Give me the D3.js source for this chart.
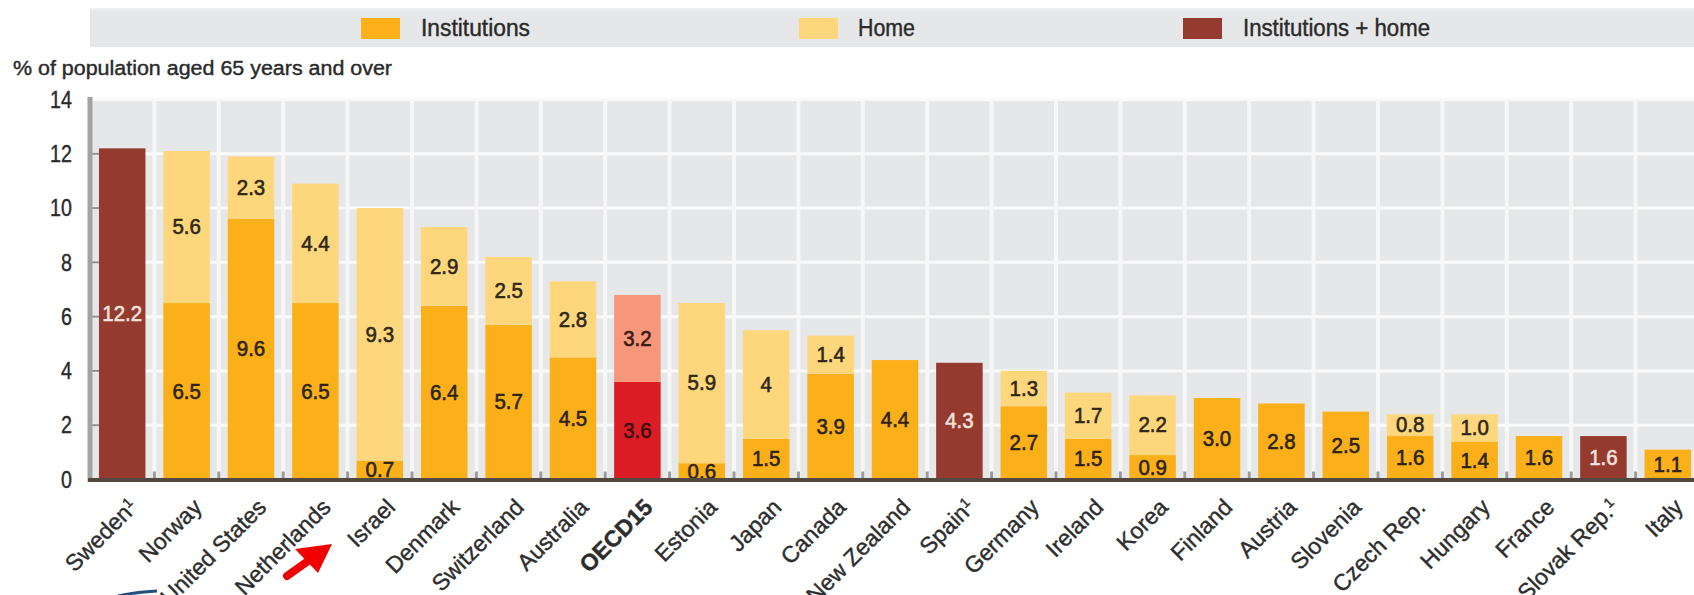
<!DOCTYPE html>
<html>
<head>
<meta charset="utf-8">
<script src="https://cdn.jsdelivr.net/npm/d3@7"></script>
<style>
  html, body { margin: 0; padding: 0; background: #fff; }
  svg { display: block; font-family: "Liberation Sans", Arial, sans-serif; }
</style>
</head>
<body>
<svg id="chart" width="1694" height="595"></svg>
<script>
// Long-term care recipients, % of population aged 65 and over
const countries = ["Sweden", "Norway", "United States", "Netherlands", "Israel", "Denmark",
  "Switzerland", "Australia", "OECD15", "Estonia", "Japan", "Canada", "New Zealand", "Spain",
  "Germany", "Ireland", "Korea", "Finland", "Austria", "Slovenia", "Czech Rep.", "Hungary",
  "France", "Slovak Rep.", "Italy"];
const footnoted = ["Sweden", "Spain", "Slovak Rep."];

// values as printed on the bars
const institutions = [null, "6.5", "9.6", "6.5", "0.7", "6.4", "5.7", "4.5", "3.6", "0.6", "1.5", "3.9",
  "4.4", null, "2.7", "1.5", "0.9", "3.0", "2.8", "2.5", "1.6", "1.4", "1.6", null, "1.1"];
const home = [null, "5.6", "2.3", "4.4", "9.3", "2.9", "2.5", "2.8", "3.2", "5.9", "4", "1.4",
  null, null, "1.3", "1.7", "2.2", null, null, null, "0.8", "1.0", null, null, null];
const institutionsPlusHome = ["12.2", null, null, null, null, null, null, null, null, null, null, null,
  null, "4.3", null, null, null, null, null, null, null, null, null, "1.6", null];

const yTicks = [0, 2, 4, 6, 8, 10, 12, 14];
const legendLabels = ["Institutions", "Home", "Institutions + home"];
const yTitle = "% of population aged 65 years and over";

const colors = {
  inst: "#fbaf18", home: "#fed77c", both: "#943a2e",
  oecdInst: "#dc1c24", oecdHome: "#f6967b"
};

const svg = d3.select("#chart");
const W = 1694;

const x = d3.scaleBand().domain(countries).range([90, 1700]).paddingInner(0.278).paddingOuter(0.139);
const y = d3.scaleLinear().domain([0, 14]).range([479.5, 99.5]);
const gap = (x.step() - x.bandwidth()) / 2;

// thicken a text slightly with its own colour
function heavy(sel, w) {
  sel.attr("stroke", function () { return d3.select(this).attr("fill"); })
    .attr("stroke-width", w).attr("paint-order", "stroke");
}

// legend band
svg.append("rect").attr("x", 90).attr("y", 8).attr("width", W - 90).attr("height", 39).attr("fill", "#e6e7e8");
svg.append("rect").attr("x", 90).attr("y", 8).attr("width", W - 90).attr("height", 2).attr("fill", "#efeff0");
const legendPos = [{ sx: 361, tx: 421, tl: 109 }, { sx: 799, tx: 858, tl: 57 }, { sx: 1183, tx: 1243, tl: 187 }];
const legendColors = [colors.inst, colors.home, colors.both];
legendLabels.forEach((lab, i) => {
  const p = legendPos[i];
  svg.append("rect").attr("x", p.sx).attr("y", 18).attr("width", 39).attr("height", 21).attr("fill", legendColors[i]);
  svg.append("text").attr("x", p.tx).attr("y", 28).attr("dominant-baseline", "central")
    .attr("font-size", 23).attr("fill", "#2a2a2a")
    .attr("textLength", p.tl).attr("lengthAdjust", "spacingAndGlyphs").text(lab)
    .call(heavy, 0.4);
});

// axis title
svg.append("text").attr("x", 13).attr("y", 75).attr("font-size", 20).attr("fill", "#2a2a2a")
  .attr("textLength", 379).attr("lengthAdjust", "spacingAndGlyphs").text(yTitle)
  .call(heavy, 0.4);

// plot background and grid
svg.append("rect").attr("x", 90).attr("y", y(14)).attr("width", W - 90).attr("height", y(0) - y(14)).attr("fill", "#e6e7e8");
svg.append("g").selectAll("line").data(yTicks.filter(d => d > 0)).join("line")
  .attr("x1", 90).attr("x2", W).attr("y1", d => y(d)).attr("y2", d => y(d))
  .attr("stroke", "#fafafa").attr("stroke-width", 3);
const boundaries = countries.slice(1).map(c => x(c) - gap);
svg.append("g").selectAll("line").data(boundaries).join("line")
  .attr("x1", d => d).attr("x2", d => d).attr("y1", y(14)).attr("y2", y(0))
  .attr("stroke", "#f7f7f7").attr("stroke-width", 4);
svg.append("g").selectAll("line").data(boundaries).join("line")
  .attr("x1", d => d).attr("x2", d => d).attr("y1", y(0) - 8).attr("y2", y(0))
  .attr("stroke", "#9a9a9a").attr("stroke-width", 3);

// bars
const rows = countries.map((c, i) => ({
  c, i,
  inst: institutions[i] == null ? null : +institutions[i], instL: institutions[i],
  home: home[i] == null ? null : +home[i], homeL: home[i],
  both: institutionsPlusHome[i] == null ? null : +institutionsPlusHome[i], bothL: institutionsPlusHome[i]
}));
const segs = [];
rows.forEach(r => {
  const oecd = r.c === "OECD15";
  if (r.both != null) segs.push({ c: r.c, y0: 0, y1: r.both, fill: colors.both, label: r.bothL, tc: "#f3e1de" });
  if (r.inst != null) segs.push({ c: r.c, y0: 0, y1: r.inst, fill: oecd ? colors.oecdInst : colors.inst, label: r.instL, tc: oecd ? "#3a0d0d" : "#2b2416" });
  if (r.home != null) {
    const base = r.inst || 0;
    segs.push({ c: r.c, y0: base, y1: base + r.home, fill: oecd ? colors.oecdHome : colors.home, label: r.homeL, tc: oecd ? "#3a1a14" : "#2f2717" });
  }
});
const bars = svg.append("g");
bars.selectAll("rect").data(segs).join("rect")
  .attr("x", d => x(d.c)).attr("width", x.bandwidth())
  .attr("y", d => y(d.y1)).attr("height", d => y(d.y0) - y(d.y1))
  .attr("fill", d => d.fill);
bars.selectAll("text").data(segs).join("text")
  .attr("transform", d => `translate(${x(d.c) + x.bandwidth() / 2},${(y(d.y0) + y(d.y1)) / 2}) scale(0.93,1)`)
  .attr("text-anchor", "middle").attr("dominant-baseline", "central")
  .attr("font-size", 22).attr("fill", d => d.tc).text(d => d.label)
  .call(heavy, 0.6);

// y axis
const yAxis = svg.append("g").attr("transform", "translate(90,0)")
  .call(d3.axisLeft(y).tickValues(yTicks).tickSize(0).tickPadding(22).tickFormat(d3.format("d")));
yAxis.select(".domain").remove();
yAxis.selectAll("text").attr("font-size", 24).attr("fill", "#2a2a2a").attr("font-family", null)
  .attr("transform", "scale(0.82,1)").call(heavy, 0.4);
svg.append("g").selectAll("line").data(yTicks.filter(d => d > 0 && d < 14)).join("line")
  .attr("x1", 90).attr("x2", 99).attr("y1", d => y(d)).attr("y2", d => y(d))
  .attr("stroke", "#8e8e8e").attr("stroke-width", 2);
svg.append("line").attr("x1", 90).attr("x2", 90).attr("y1", 97).attr("y2", 482)
  .attr("stroke", "#a3a3a3").attr("stroke-width", 5);

// x axis
svg.append("line").attr("x1", 88).attr("x2", W).attr("y1", 480).attr("y2", 480)
  .attr("stroke", "#534840").attr("stroke-width", 4);
const xAxis = svg.append("g").attr("transform", "translate(0,480)")
  .call(d3.axisBottom(x).tickSize(0).tickFormat(""));
xAxis.select(".domain").remove();
xAxis.selectAll(".tick text").each(function (d) {
  const t = d3.select(this)
    .attr("x", 0).attr("y", 0).attr("dy", "0.78em")
    .attr("transform", "translate(4,16) rotate(-45)")
    .attr("text-anchor", "end").attr("font-size", 23).attr("fill", "#2d2d2d").attr("font-family", null)
    .attr("font-weight", d === "OECD15" ? "bold" : "normal");
  t.append("tspan").text(d);
  if (footnoted.includes(d)) {
    t.append("tspan").attr("font-size", 14).attr("dy", "-0.55em").text("1");
  }
  heavy(t, 0.4);
});

// annotation marks along the lower edge
svg.append("line").attr("x1", 287).attr("y1", 576).attr("x2", 308).attr("y2", 561)
  .attr("stroke", "#f00000").attr("stroke-width", 8).attr("stroke-linecap", "round");
svg.append("path").attr("d", "M295,549 L332,544 L318,573 Z").attr("fill", "#f00000");
svg.append("path").attr("d", "M118,596 Q136,592 157,591").attr("fill", "none")
  .attr("stroke", "#1f4f7f").attr("stroke-width", 3);
</script>
</body>
</html>
